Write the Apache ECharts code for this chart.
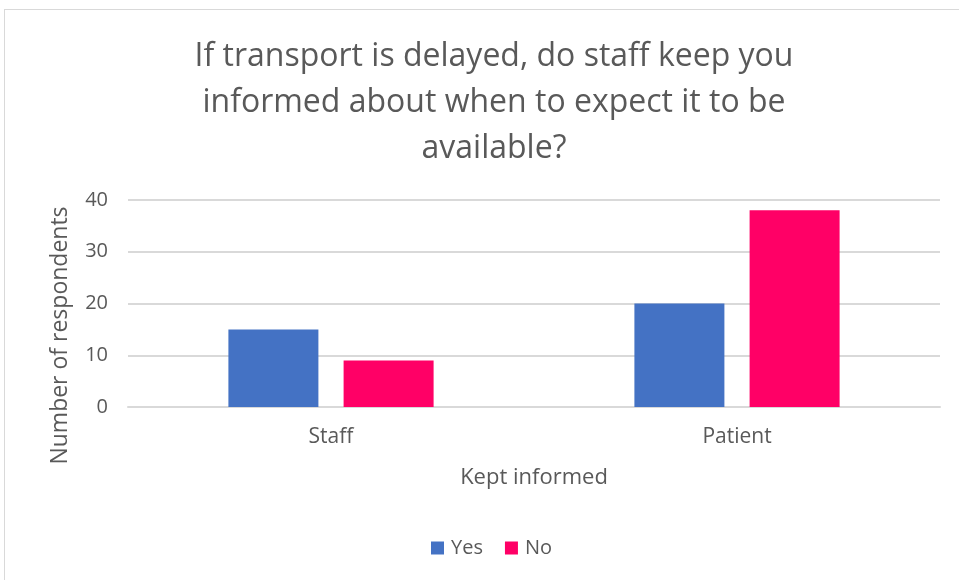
<!DOCTYPE html>
<html lang="en">
<head>
    <meta charset="UTF-8">
    <title>Kept informed</title>
    <script src="https://cdn.jsdelivr.net/npm/echarts@6/dist/echarts.min.js"></script>
    <style>
        html, body { margin: 0; padding: 0; background: #fff; }
        #frame { position: absolute; left: 4px; top: 9px; width: 960px; height: 580px; border: 1px solid #d9d9d9; box-sizing: border-box; }
        #main { position: absolute; left: 0; top: 0; width: 959px; height: 580px; }
    </style>
</head>
<body>
<div id="frame"></div>
<div id="main"></div>
<script type="text/javascript">
    var categories = ['Staff', 'Patient'];
    var yesValues = [15, 20];
    var noValues = [9, 38];
    var yTicks = { min: 0, max: 40, interval: 10 };

    var txt = '#595959';
    var font = '"Open Sans", "Liberation Sans", sans-serif';

    var myChart = echarts.init(document.getElementById('main'));
    myChart.setOption({
        animation: false,
        textStyle: { fontFamily: font },
        title: {
            text: 'If transport is delayed, do staff keep you\ninformed about when to expect it to be\navailable?',
            left: 489,
            textAlign: 'center',
            top: 29,
            textStyle: { color: txt, fontSize: 32, fontWeight: 'normal', lineHeight: 46, fontFamily: font }
        },
        grid: { left: 128, right: 19, top: 200, bottom: 173 },
        legend: {
            data: ['Yes', 'No'],
            bottom: 17,
            left: 426,
            itemWidth: 13,
            itemHeight: 13,
            itemGap: 22,
            icon: 'rect',
            textStyle: { color: txt, fontSize: 20, fontFamily: font, padding: [0, 0, 0, 2] }
        },
        xAxis: {
            type: 'category',
            data: categories,
            name: 'Kept informed',
            nameLocation: 'middle',
            nameGap: 60,
            nameTextStyle: { color: txt, fontSize: 22, fontFamily: font },
            axisLine: { lineStyle: { color: '#d9d9d9', width: 2 } },
            axisTick: { show: false },
            axisLabel: { color: txt, fontSize: 21, margin: 20, fontFamily: font }
        },
        yAxis: {
            type: 'value',
            min: yTicks.min,
            max: yTicks.max,
            interval: yTicks.interval,
            name: 'Number of respondents',
            nameLocation: 'middle',
            nameGap: 56,
            nameTextStyle: { color: txt, fontSize: 23, fontFamily: font, padding: [0, 64, 0, 0] },
            axisLine: { show: false },
            axisTick: { show: false },
            axisLabel: { color: txt, fontSize: 20, margin: 20, fontFamily: font },
            splitLine: { lineStyle: { color: '#d9d9d9', width: 2 } }
        },
        series: [{
            name: 'Yes',
            type: 'bar',
            data: yesValues,
            barWidth: 90,
            barGap: '28%',
            itemStyle: { color: '#4472C4' }
        }, {
            name: 'No',
            type: 'bar',
            data: noValues,
            barWidth: 90,
            itemStyle: { color: '#FF0066' }
        }]
    });
</script>
</body>
</html>
